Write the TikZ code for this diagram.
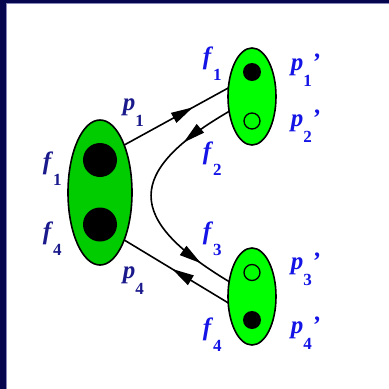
\documentclass[tikz,border=0pt]{standalone}
\usepackage{fontspec}
\setmainfont{Liberation Serif}
\usetikzlibrary{shapes.geometric,arrows.meta,decorations.markings}
\definecolor{frameblue}{HTML}{06064F}
\definecolor{edgeblue}{HTML}{8888BB}
\definecolor{darkgreen}{HTML}{00CC00}
\definecolor{lightgreen}{HTML}{00FF00}
\definecolor{darklab}{HTML}{1A1A8C}
\definecolor{brightlab}{HTML}{1414E6}
\newcommand{\lbl}[3]{\textbf{\textit{#1}}\raisebox{-16pt}{\fontsize{17}{17}\selectfont\textbf{#2}}#3}
\begin{document}
\begin{tikzpicture}[x=1pt, y=-1pt, line width=1.6pt,
    lab/.style={inner sep=0pt, anchor=base west, font=\fontsize{25}{25}\selectfont},
    blob/.style={ellipse, draw, inner sep=0pt, outer sep=0pt},
    dot/.style={circle, fill=black, inner sep=0pt, minimum size=#1},
    hole/.style={circle, draw, line width=1.3pt, inner sep=0pt, minimum size=16pt},
    midarrow/.style={postaction={decorate, decoration={markings,
        mark=at position #1 with {\arrow{Triangle[length=22pt, width=11pt]}}}}}]
    \useasboundingbox (0,0) rectangle (389,389);
    \fill[white] (0,0) rectangle (389,389);
    \fill[frameblue] (0,0) rectangle (6,389);
    \fill[frameblue] (0,0) rectangle (389,3);
    \draw[edgeblue, line width=1pt] (6.5,389) -- (6.5,3.5) -- (389,3.5);

    % source patch
    \node[blob, fill=darkgreen, minimum width=64pt, minimum height=145pt] (big) at (100,192.5) {};
    \node[dot=34pt] (bigA) at (100,160) {};
    \node[dot=34pt] (bigB) at (100,224.5) {};

    % target patches
    \node[blob, fill=lightgreen, minimum width=48pt, minimum height=97pt] (top) at (252,96.5) {};
    \node[dot=18pt] (topA) at (252,72) {};
    \node[hole] (topB) at (252,121) {};
    \node[blob, fill=lightgreen, minimum width=48pt, minimum height=97pt] (bot) at (252,296.5) {};
    \node[hole] (botA) at (252,272.5) {};
    \node[dot=18pt] (botB) at (252,320) {};

    % connectors
    \draw[midarrow=0.66] (big.63.7) -- (top.160);
    \draw[midarrow=0.23, midarrow=0.86] (top.213) .. controls (125,172) and (125,219) .. (bot.147);
    \draw[midarrow=0.54] (bot.195) -- (big.-63);

    % labels
    \begin{scope}[darklab]
        \node[lab] (fL1) at (42,169) {\lbl{f}{1}{}};
        \node[lab] (fL4) at (42,239) {\lbl{f}{4}{}};
        \node[lab] (pL1) at (122,110.5) {\lbl{p}{1}{}};
        \node[lab] (pL4) at (122,278) {\lbl{p}{4}{}};
    \end{scope}
    \begin{scope}[brightlab]
        \node[lab] (fR1) at (202,64) {\lbl{f}{1}{}};
        \node[lab] (fR2) at (202,159) {\lbl{f}{2}{}};
        \node[lab] (fR3) at (202,239) {\lbl{f}{3}{}};
        \node[lab] (fR4) at (202,335) {\lbl{f}{4}{}};
        \node[lab] (pR1) at (290,70.5) {\lbl{p}{1}{\textbf{\textit{'}}}};
        \node[lab] (pR2) at (290,126.5) {\lbl{p}{2}{\textbf{\textit{'}}}};
        \node[lab] (pR3) at (290,269.5) {\lbl{p}{3}{\textbf{\textit{'}}}};
        \node[lab] (pR4) at (290,333.5) {\lbl{p}{4}{\textbf{\textit{'}}}};
    \end{scope}
\end{tikzpicture}
\end{document}
